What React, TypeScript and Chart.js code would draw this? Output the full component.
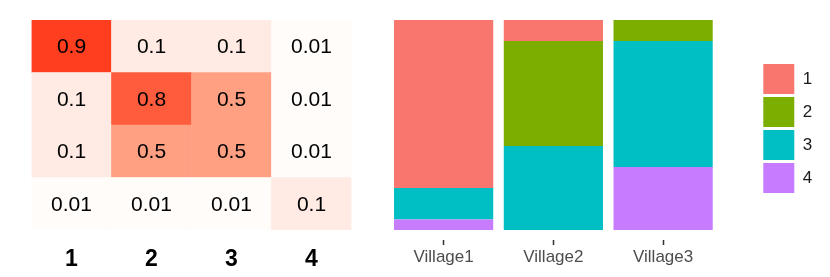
import React, { useEffect, useRef } from 'react';
import { Chart, registerables } from 'chart.js';
Chart.register(...registerables);

Chart.defaults.font.family = "'Liberation Sans', Arial, sans-serif";

// ---- Heatmap data ----
const heatColumns = ['1', '2', '3', '4'];
const heatRow1 = [0.9, 0.1, 0.1, 0.01];
const heatRow2 = [0.1, 0.8, 0.5, 0.01];
const heatRow3 = [0.1, 0.5, 0.5, 0.01];
const heatRow4 = [0.01, 0.01, 0.01, 0.1];
const heatRowsTopToBottom = [heatRow1, heatRow2, heatRow3, heatRow4];

// ---- Stacked bar data ----
const villages = ['Village1', 'Village2', 'Village3'];
const groupNames = ['1', '2', '3', '4'];
const share1 = [0.8, 0.1, 0];
const share2 = [0, 0.5, 0.1];
const share3 = [0.15, 0.4, 0.6];
const share4 = [0.05, 0, 0.3];
const groupColors = ['#F8766D', '#7CAE00', '#00BFC4', '#C77CFF'];

// colour ramp for the heatmap
const rampStops: [number, number[]][] = [
  [0, [255, 255, 255]],
  [0.01, [255, 252, 250]],
  [0.1, [255, 235, 228]],
  [0.5, [255, 160, 131]],
  [0.8, [255, 92, 61]],
  [0.9, [255, 61, 31]],
  [1, [255, 30, 0]],
];
function heatColor(v: number): string {
  for (let i = 1; i < rampStops.length; i++) {
    const [v1, c1] = rampStops[i];
    const [v0, c0] = rampStops[i - 1];
    if (v <= v1) {
      const t = (v - v0) / (v1 - v0);
      const c = c0.map((a, k) => Math.round(a + (c1[k] - a) * t));
      return `rgb(${c[0]},${c[1]},${c[2]})`;
    }
  }
  return 'rgb(255,30,0)';
}

const FONT = "'Liberation Sans', Arial, sans-serif";

function Heatmap() {
  const ref = useRef<HTMLCanvasElement>(null);
  useEffect(() => {
    const rowsBottomUp = [...heatRowsTopToBottom].reverse();
    const cellLabels = {
      id: 'cellLabels',
      afterDatasetsDraw(chart: any) {
        const ctx = chart.ctx;
        ctx.save();
        ctx.fillStyle = '#000';
        ctx.font = `21px ${FONT}`;
        ctx.textAlign = 'center';
        ctx.textBaseline = 'middle';
        chart.data.datasets.forEach((ds: any, i: number) => {
          const meta = chart.getDatasetMeta(i);
          meta.data.forEach((el: any, j: number) => {
            const p = el.getProps(['x', 'y', 'base'], true);
            ctx.fillText(String(ds.values[j]), p.x, (p.y + p.base) / 2 + 1);
          });
        });
        ctx.restore();
      },
    };
    const chart = new Chart(ref.current!, {
      type: 'bar',
      data: {
        labels: heatColumns,
        datasets: rowsBottomUp.map((row, i) => ({
          label: 'row' + i,
          data: row.map(() => 1),
          values: row,
          backgroundColor: row.map(heatColor),
          borderWidth: 0,
          barPercentage: 1,
          categoryPercentage: 1,
        })) as any,
      },
      options: {
        animation: false,
        responsive: false,
        events: [],
        layout: { padding: { left: 31.5, right: 18.5, top: 20, bottom: 0 } },
        plugins: { legend: { display: false }, tooltip: { enabled: false } },
        scales: {
          x: {
            stacked: true,
            grid: { display: false, drawTicks: false },
            border: { display: false },
            ticks: { color: '#000', font: { size: 23, weight: 'bold' }, padding: 16 },
            afterFit: (s: any) => { s.height = 47; },
          },
          y: { stacked: true, display: false, min: 0, max: 4 },
        },
      },
      plugins: [cellLabels],
    } as any);
    return () => chart.destroy();
  }, []);
  return <canvas ref={ref} width={370} height={277} style={{ width: 370, height: 277, display: 'block' }} />;
}

function StackedBars() {
  const ref = useRef<HTMLCanvasElement>(null);
  useEffect(() => {
    const shares = [share1, share2, share3, share4];
    const order = [3, 2, 1, 0];
    const chart = new Chart(ref.current!, {
      type: 'bar',
      data: {
        labels: villages,
        datasets: order.map((g) => ({
          label: groupNames[g],
          data: shares[g],
          backgroundColor: groupColors[g],
          borderColor: groupColors[g],
          borderWidth: 0,
          barPercentage: 0.904,
          categoryPercentage: 1,
        })),
      },
      options: {
        animation: false,
        responsive: false,
        events: [],
        layout: { padding: { left: 8.75, right: 7.75, top: 0, bottom: 0 } },
        plugins: {
          tooltip: { enabled: false },
          legend: {
            position: 'right',
            align: 'start',
            reverse: true,
            title: {
              display: true,
              text: '',
              font: { size: 10, lineHeight: 1 },
              padding: { top: 51, bottom: 0 },
            },
            labels: {
              boxWidth: 31,
              boxHeight: 30,
              padding: 3,
              color: '#1A1A1A',
              font: { size: 17 },
            },
          },
        },
        scales: {
          x: {
            stacked: true,
            grid: {
              display: true,
              offset: false,
              drawOnChartArea: false,
              drawTicks: true,
              tickLength: 15,
              tickColor: '#333333',
              tickWidth: 1.5,
              tickBorderDash: [0, 10, 5, 50],
            },
            border: { display: false },
            ticks: { color: '#4D4D4D', font: { size: 17 }, padding: 2 },
            afterFit: (s: any) => { s.height = 47; },
          },
          x2: {
            type: 'category',
            labels: villages,
            position: 'top',
            display: true,
            grid: { display: false, drawTicks: false },
            border: { display: false },
            ticks: { display: false },
            afterFit: (s: any) => { s.height = 20; },
          },
          y: {
            stacked: true,
            min: 0,
            max: 1,
            position: 'right',
            grid: { display: false, drawTicks: false },
            border: { display: false },
            ticks: { display: false },
            afterFit: (s: any) => { s.width = 42.3; },
          },
        },
      },
    } as any);
    return () => chart.destroy();
  }, []);
  return <canvas ref={ref} width={450} height={277} style={{ width: 450, height: 277, display: 'block' }} />;
}

export default function App() {
  return (
    <div style={{ position: 'absolute', left: 0, top: 0, width: 830, height: 277, background: '#fff' }}>
      <div style={{ position: 'absolute', left: 0, top: 0 }}>
        <Heatmap />
      </div>
      <div style={{ position: 'absolute', left: 380, top: 0 }}>
        <StackedBars />
      </div>
    </div>
  );
}
